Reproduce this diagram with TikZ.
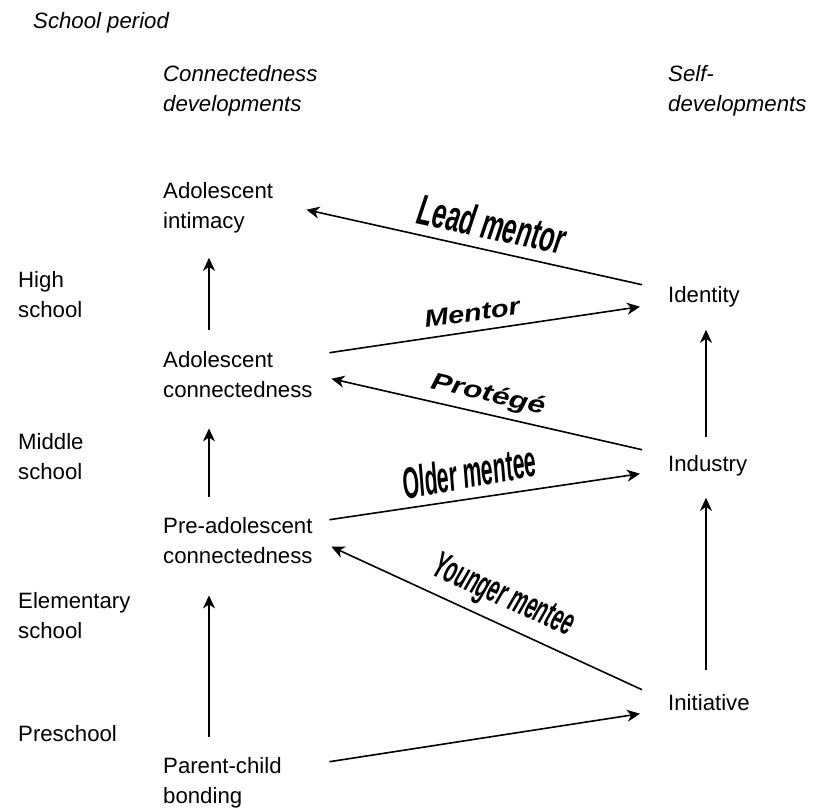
\documentclass[tikz,border=0pt]{standalone}
\usepackage{fontspec}
\setmainfont{Liberation Sans}
\usepackage{graphicx}
\usetikzlibrary{arrows.meta}

\begin{document}
\begin{tikzpicture}[x=1pt,y=-1pt]
\tikzset{txt/.style={anchor=base west,inner sep=0pt,align=left,font=\fontsize{22.2}{30}\selectfont}}
\tikzset{head/.style={txt,font=\fontsize{22.2}{30}\selectfont\itshape}}
\tikzset{col/.style={txt,text width=150pt}}
\tikzset{arr/.style={-{Stealth[length=13pt,width=12pt,inset=4pt]},line width=1.6pt}}
\tikzset{tag/.style={inner sep=0pt,font=\bfseries\itshape}}

 \useasboundingbox (0,0) rectangle (821,809);

  % headings (base = last line)
  \node[head] (sp) at (33,28)  {School period};
  \node[head] (cd) at (163,111) {Connectedness\\developments};
  \node[head] (sd) at (668,111) {Self-\\developments};

  \node[txt] (hs) at (18,317) {High\\school};
  \node[txt] (ms) at (18,479) {Middle\\school};
  \node[txt] (es) at (18,638) {Elementary\\school};
  \node[txt] (ps) at (18,741) {Preschool};

  \node[col] (ai) at (163,198) {Adolescent\\intimacy};
  \node[col] (ac) at (163,367) {Adolescent\\connectedness};
  \node[col] (pc) at (163,533) {Pre-adolescent\\connectedness};
  \node[col] (pb) at (163,773) {Parent-child\\bonding};

  \node[txt] (id) at (668,302) {Identity};
  \node[txt] (in) at (668,471) {Industry};
  \node[txt] (it) at (668,710) {Initiative};

  % upward arrows
  \draw[arr] ([shift={(46,-21)}]ac.north west) -- ([shift={(46,25)}]ai.south west);
  \draw[arr] ([shift={(46,-20)}]pc.north west) -- ([shift={(46,31)}]ac.south west);
  \draw[arr] ([shift={(46,-20)}]pb.north west) -- ([shift={(46,32)}]pc.south west);
  \draw[arr] ([shift={(38,-18)}]in.north west) -- ([shift={(38,23)}]id.south west);
  \draw[arr] ([shift={(38,-24)}]it.north west) -- ([shift={(38,22)}]in.south west);

  % mentoring arrows
  \draw[arr] ([shift={(-26,-1)}]id.north west) -- ([shift={(-7,28)}]ai.north east);
  \draw[arr] ([shift={(16,2)}]ac.north east) -- ([shift={(-28,21)}]id.north west);
  \draw[arr] ([shift={(-26,-5)}]in.north west) -- ([shift={(18,28)}]ac.north east);
  \draw[arr] ([shift={(16,3)}]pc.north east) -- ([shift={(-28,19)}]in.north west);
  \draw[arr] ([shift={(-26,-4)}]it.north west) -- ([shift={(18,30)}]pc.north east);
  \draw[arr] ([shift={(16,5)}]pb.north east) -- ([shift={(-28,20)}]it.north west);

  \node[tag,rotate=-12] (lm) at (492,224) {\fontsize{43}{43}\selectfont\scalebox{0.58}[1]{Lead mentor}};
  \node[tag,rotate=8] (me) at (472,313) {\fontsize{24}{24}\selectfont\scalebox{1.2}[1]{Mentor}};
  \node[tag,rotate=-13] (pr) at (488,395) {\fontsize{24}{24}\selectfont\scalebox{1.3}[1]{Protégé}};
  \node[tag,rotate=10] (om) at (469,472) {\fontsize{44}{44}\selectfont\scalebox{0.48}[1]{Older mentee}};
  \node[tag,rotate=-24] (ym) at (503,597) {\fontsize{38}{38}\selectfont\scalebox{0.51}[1]{Younger mentee}};
\end{tikzpicture}
\end{document}
